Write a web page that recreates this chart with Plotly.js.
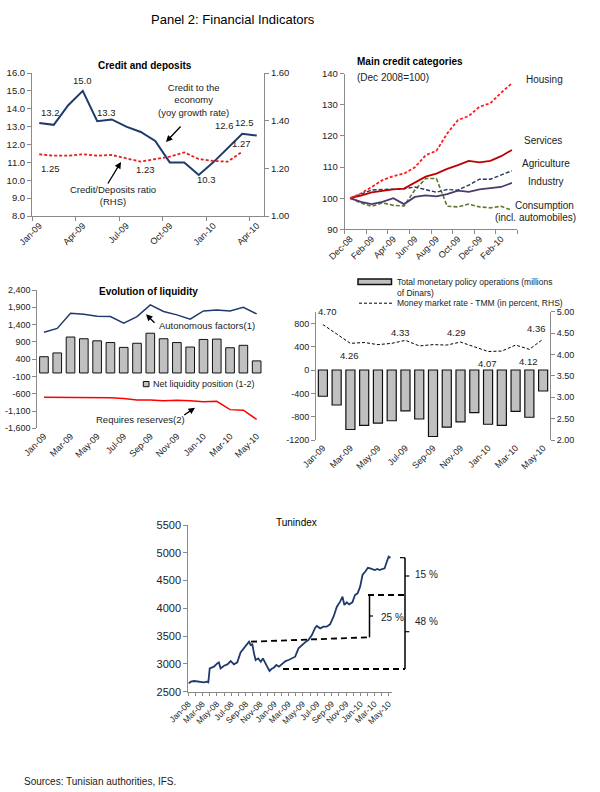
<!DOCTYPE html>
<html><head><meta charset="utf-8">
<script src="https://cdn.plot.ly/plotly-3.0.1.min.js"></script>
<style>html,body{margin:0;padding:0;background:#fff}#chart{width:600px;height:792px}</style>
</head><body><div id="chart"></div>
<script>
// ---------- DATA ----------
const creditMonths = ['Jan-09','Feb-09','Mar-09','Apr-09','May-09','Jun-09','Jul-09','Aug-09','Sep-09','Oct-09','Nov-09','Dec-09','Jan-10','Feb-10','Mar-10','Apr-10'];
const creditTickLabels = ['Jan-09','Apr-09','Jul-09','Oct-09','Jan-10','Apr-10'];
const creditGrowth = [13.2,13.1,14.2,15.0,13.3,13.4,13.0,12.7,12.2,11.0,11.0,10.3,11.0,11.8,12.6,12.5];
const creditDepositRatio = [1.259,1.253,1.253,1.259,1.253,1.256,1.242,1.228,1.239,1.249,1.267,1.239,1.231,1.228,1.270];

const categoryMonths = ['Dec-08','Jan-09','Feb-09','Mar-09','Apr-09','May-09','Jun-09','Jul-09','Aug-09','Sep-09','Oct-09','Nov-09','Dec-09','Jan-10','Feb-10','Mar-10'];
const categoryTickLabels = ['Dec-08','Feb-09','Apr-09','Jun-09','Aug-09','Oct-09','Dec-09','Feb-10'];
const housing     = [100,101.5,103.6,105.8,107.1,107.9,109.9,113.8,115.2,120.8,125.1,126.4,129.4,130.5,133.9,136.9];
const services    = [100,100.8,101.9,102.4,102.8,103.1,104.9,106.9,107.9,109.4,110.6,112.0,111.5,112.0,113.5,115.5];
const agriculture = [100,101.3,102.6,102.8,102.8,103.0,103.6,102.8,101.9,102.8,102.6,104.2,106.1,106.1,107.4,108.8];
const industry    = [100,98.8,98.1,98.8,100.0,98.1,100.4,100.9,100.6,101.3,102.4,102.0,102.8,103.1,103.6,104.9];
const consumption = [100,98.5,97.4,98.5,97.7,97.5,102.6,106.3,106.3,97.4,97.2,98.1,97.2,96.9,97.4,96.1];

const liquidityMonths = ['Jan-09','Feb-09','Mar-09','Apr-09','May-09','Jun-09','Jul-09','Aug-09','Sep-09','Oct-09','Nov-09','Dec-09','Jan-10','Feb-10','Mar-10','Apr-10','May-10'];
const liquidityTickLabels = ['Jan-09','Mar-09','May-09','Jul-09','Sep-09','Nov-09','Jan-10','Mar-10','May-10'];
const netLiquidity      = [470,580,1040,990,930,880,740,860,1150,990,880,750,970,980,730,800,350];
const autonomousFactors = [1180,1290,1730,1700,1640,1630,1440,1630,1970,1780,1680,1555,1795,1825,1795,1900,1710];
const requiredReserves  = [-700,-700,-700,-720,-700,-720,-740,-780,-780,-800,-790,-800,-835,-820,-1060,-1075,-1345];
const liquidityYTicks  = [-1600,-1100,-600,-100,400,900,1400,1900,2400];
const liquidityYLabels = ['-1,600','-1,100','-600','-100','400','900','1,400','1,900','2,400'];

const monetaryOps     = [-450,-600,-1020,-950,-910,-870,-700,-840,-1140,-980,-890,-730,-930,-950,-710,-810,-360];
const moneyMarketRate = [4.70,4.48,4.26,4.28,4.23,4.26,4.33,4.20,4.23,4.22,4.29,4.18,4.07,4.08,4.22,4.12,4.36];
const opsYTicks  = [-1200,-800,-400,0,400,800];
const opsYLabels = ['-1200','-800','-400','0','400','800'];
const rateYTicks = [2.0,2.5,3.0,3.5,4.0,4.5,5.0];

const tunDates = ['2008-01-02','2008-01-12','2008-01-26','2008-02-16','2008-03-07','2008-03-21','2008-03-26','2008-04-01','2008-04-19','2008-05-03','2008-05-10','2008-05-17','2008-06-01','2008-06-15','2008-06-29','2008-07-13','2008-07-27','2008-08-10','2008-08-24','2008-09-08','2008-09-15','2008-09-22','2008-09-29','2008-10-06','2008-10-13','2008-10-24','2008-11-04','2008-11-13','2008-11-22','2008-12-01','2008-12-11','2008-12-19','2008-12-29','2009-01-09','2009-01-20','2009-02-03','2009-02-17','2009-03-02','2009-03-16','2009-03-30','2009-04-13','2009-04-27','2009-05-11','2009-05-25','2009-06-09','2009-06-23','2009-06-30','2009-07-14','2009-07-28','2009-08-11','2009-08-25','2009-09-09','2009-09-23','2009-10-07','2009-10-17','2009-10-25','2009-11-04','2009-11-14','2009-11-28','2009-12-09','2009-12-20','2009-12-31','2010-01-10','2010-01-21','2010-02-02','2010-02-12','2010-02-22','2010-03-03','2010-03-14','2010-03-24','2010-04-03','2010-04-14','2010-04-21','2010-05-01','2010-05-09'];
const tunindex = [2650,2680,2692,2680,2668,2680,2668,2920,2950,3010,3028,2920,2968,2992,3052,2992,3028,3208,3280,3352,3400,3340,3352,3190,3070,3100,3040,3100,3010,2950,2872,2908,2932,2980,2950,3010,3052,3070,3100,3130,3280,3340,3388,3430,3520,3652,3682,3640,3670,3670,3712,3850,4030,4120,4210,4060,4108,4072,4108,4240,4270,4390,4600,4660,4730,4720,4708,4690,4708,4690,4708,4720,4810,4930,4910];
const tunTickLabels = ['Jan-08','Mar-08','May-08','Jul-08','Sep-08','Nov-08','Jan-09','Mar-09','May-09','Jul-09','Sep-09','Nov-09','Jan-10','Mar-10','May-10'];
const tunTickDates  = ['2008-01-01','2008-03-01','2008-05-01','2008-07-01','2008-09-01','2008-11-01','2009-01-01','2009-03-01','2009-05-01','2009-07-01','2009-09-01','2009-11-01','2010-01-01','2010-03-01','2010-05-01'];

// ---------- HELPERS ----------
const W = 600, H = 792;
const px = x => x / W, py = y => 1 - y / H;
const FONT = 'Liberation Sans, Arial, Helvetica, sans-serif';
const AXC = '#8a8a8a', TXT = '#222';
const idx = a => a.map((_, i) => i);
const posOf = (labels, all) => labels.map(l => all.indexOf(l));

function ax(extra) {
  return Object.assign({
    showgrid: false, zeroline: false, showline: true, linecolor: AXC, linewidth: 1,
    ticks: 'outside', ticklen: 4, tickcolor: AXC, tickwidth: 1,
    tickfont: {size: 9.5, color: TXT, family: FONT}, fixedrange: true
  }, extra);
}

const p1Ticks = posOf(creditTickLabels, creditMonths);
const p2Ticks = posOf(categoryTickLabels, categoryMonths);
const p3Ticks = posOf(liquidityTickLabels, liquidityMonths);

// monthly minor ticks for Tunindex axis
const tunMonthly = [];
for (let y = 2008; y <= 2010; y++) for (let m = 1; m <= 12; m++) {
  if (y === 2010 && m > 5) break;
  tunMonthly.push(y + '-' + String(m).padStart(2, '0') + '-01');
}

// ---------- TRACES ----------
const traces = [
  {type:'scatter', mode:'lines', x: idx(creditGrowth), y: creditGrowth, xaxis:'x', yaxis:'y',
   line:{color:'#1F3A6B', width:2}},
  {type:'scatter', mode:'lines', x: idx(creditDepositRatio), y: creditDepositRatio, xaxis:'x', yaxis:'y2',
   line:{color:'#E3201B', width:1.8, dash:'3px,2px'}},

  {type:'scatter', mode:'lines', x: idx(consumption), y: consumption, xaxis:'x2', yaxis:'y3',
   line:{color:'#5E7A2E', width:1.6, dash:'4px,2px'}},
  {type:'scatter', mode:'lines', x: idx(industry), y: industry, xaxis:'x2', yaxis:'y3',
   line:{color:'#4B3B6B', width:1.8}},
  {type:'scatter', mode:'lines', x: idx(agriculture), y: agriculture, xaxis:'x2', yaxis:'y3',
   line:{color:'#1F3864', width:1.4, dash:'4px,2px'}},
  {type:'scatter', mode:'lines', x: idx(services), y: services, xaxis:'x2', yaxis:'y3',
   line:{color:'#C00000', width:1.8}},
  {type:'scatter', mode:'lines', x: idx(housing), y: housing, xaxis:'x2', yaxis:'y3',
   line:{color:'#FF1A1A', width:1.8, dash:'3px,2px'}},

  {type:'bar', x: idx(netLiquidity), y: netLiquidity, xaxis:'x3', yaxis:'y4', width:0.65,
   marker:{color:'#C0C0C0', line:{color:'#111', width:1}}},
  {type:'scatter', mode:'lines', x: idx(autonomousFactors), y: autonomousFactors, xaxis:'x3', yaxis:'y4',
   line:{color:'#1F3A6B', width:1.5}},
  {type:'scatter', mode:'lines', x: idx(requiredReserves), y: requiredReserves, xaxis:'x3', yaxis:'y4',
   line:{color:'#FF0000', width:1.5}},

  {type:'bar', x: idx(monetaryOps), y: monetaryOps, xaxis:'x4', yaxis:'y5', width:0.66,
   marker:{color:'#C0C0C0', line:{color:'#111', width:1.2}}},
  {type:'scatter', mode:'lines', x: idx(moneyMarketRate), y: moneyMarketRate, xaxis:'x4', yaxis:'y6',
   line:{color:'#000', width:1, dash:'3px,2px'}},

  {type:'scatter', mode:'lines', x: tunDates, y: tunindex, xaxis:'x5', yaxis:'y7',
   line:{color:'#1F3A6B', width:1.8}}
];

// ---------- ANNOTATIONS ----------
function T(text, x, y, o) {
  o = o || {};
  return {text, xref:'paper', yref:'paper', x:px(x), y:py(y), showarrow:false,
    xanchor:o.anchor || 'center', yanchor:'middle', align:o.align || 'center',
    font:{size:o.size || 9.5, color:o.color || TXT, family:FONT}};
}
function D(text, xr, yr, xi, v, dx, dy) {
  return {text, xref:xr, yref:yr, x:xi, y:v, xshift:dx, yshift:dy, showarrow:false,
    xanchor:'center', yanchor:'middle', font:{size:9.5, color:TXT, family:FONT}};
}
function A(hx, hy, tx, ty) {
  return {text:'', xref:'paper', yref:'paper', x:px(hx), y:py(hy), ax:tx - hx, ay:ty - hy,
    showarrow:true, arrowhead:2, arrowsize:1, arrowwidth:1.3, arrowcolor:'#000'};
}

const annotations = [
  T('Panel 2: Financial Indicators', 232.5, 19, {size:13, color:'#000'}),
  T('<b>Credit and deposits</b>', 145, 65.7, {size:10, color:'#000'}),
  T('<b>Main credit categories</b>', 355, 61.7, {size:10, color:'#000', anchor:'left'}),
  T('(Dec 2008=100)', 355, 77.3, {size:10, anchor:'left'}),
  T('<b>Evolution of liquidity</b>', 148.3, 291.7, {size:10, color:'#000'}),
  T('Tunindex', 296, 522.7, {size:10, color:'#000'}),
  T('Sources: Tunisian authorities, IFS.', 21.7, 781.7, {size:10, anchor:'left'}),

  // panel 1
  D('13.2', 'x', 'y', 0, creditGrowth[0], 11, 11),
  D('15.0', 'x', 'y', 3, creditGrowth[3], 0, 10),
  D('13.3', 'x', 'y', 4, creditGrowth[4], 9, 9),
  D('10.3', 'x', 'y', 11, creditGrowth[11], 8, -5),
  D('12.6', 'x', 'y', 14, creditGrowth[14], -18, 8),
  D('12.5', 'x', 'y', 15, creditGrowth[15], -12, 13),
  D('1.25', 'x', 'y2', 0, creditDepositRatio[0], 11, -14),
  D('1.23', 'x', 'y2', 7, creditDepositRatio[7], 5, -8),
  D('1.27', 'x', 'y2', 14, creditDepositRatio[14], -1, 8),
  T('Credit to the<br>economy<br>(yoy growth rate)', 194, 99.5),
  T('Credit/Deposits ratio<br>(RHS)', 113, 195.5),
  A(166, 142, 182, 125),
  A(121, 162, 107, 185),

  // panel 2
  T('Housing', 544, 80, {size:10}),
  T('Services', 543, 141, {size:10}),
  T('Agriculture', 546, 163.3, {size:10}),
  T('Industry', 545.7, 181.7, {size:10}),
  T('Consumption', 544.5, 205, {size:10}),
  T('(incl. automobiles)', 535.3, 217.3, {size:10}),

  // panel 3
  T('Autonomous factors(1)', 156.7, 325.7, {anchor:'left'}),
  T('Net liquidity position (1-2)', 150.7, 384, {anchor:'left', size:9}),
  T('Requires reserves(2)', 94, 419.3, {anchor:'left'}),
  A(146, 314.3, 156, 324.3),
  A(195, 407.7, 182.7, 416),

  // panel 4
  T('Total monetary policy operations (millions', 395, 281.5, {anchor:'left', size:8.5}),
  T('of Dinars)', 395, 292.5, {anchor:'left', size:8.5}),
  T('Money market rate - TMM (in percent, RHS)', 395, 303.2, {anchor:'left', size:8.5}),
  D('4.70', 'x4', 'y6', 0, moneyMarketRate[0], 5, 13),
  D('4.26', 'x4', 'y6', 2, moneyMarketRate[2], -1, -12),
  D('4.33', 'x4', 'y6', 6, moneyMarketRate[6], -5, 8),
  D('4.29', 'x4', 'y6', 10, moneyMarketRate[10], -4, 10),
  D('4.07', 'x4', 'y6', 12, moneyMarketRate[12], -1, -12),
  D('4.12', 'x4', 'y6', 15, moneyMarketRate[15], -1, -12),
  D('4.36', 'x4', 'y6', 16, moneyMarketRate[16], -7, 11),

  // panel 5
  T('15 %', 426, 574.3, {size:10}),
  T('25 %', 392, 617.3, {size:10}),
  T('48 %', 426.5, 621.7, {size:10})
];

// ---------- SHAPES (legend swatches and Tunindex brackets) ----------
function L(x0, y0, x1, y1, o) {
  o = o || {};
  return {type:'line', xref:'paper', yref:'paper', x0:px(x0), y0:py(y0), x1:px(x1), y1:py(y1),
    line:{color:'#000', width:o.w || 1.5, dash:o.dash || 'solid'}};
}
function R(x0, y0, x1, y1, w) {
  return {type:'rect', xref:'paper', yref:'paper', x0:px(x0), y0:py(y0), x1:px(x1), y1:py(y1),
    fillcolor:'#C0C0C0', line:{color:'#111', width:w || 1}};
}
const shapes = [
  R(143.3, 381.5, 149, 386.7, 1),
  R(358, 279, 391.5, 284.5, 1.5),
  L(359, 303.2, 392, 303.2, {w:1, dash:'3px,2px'}),
  // Tunindex brackets
  L(251, 641.7, 369, 637.3, {w:1.8, dash:'6px,4px'}),
  L(369.5, 595, 369.5, 637.3, {w:1.5}),
  L(369.5, 616, 373, 616, {w:1.2}),
  L(368, 595, 405, 595, {w:1.8, dash:'6px,4px'}),
  L(283, 669, 405, 669, {w:1.8, dash:'6px,4px'}),
  L(400, 557.7, 405, 557.7, {w:1.2}),
  L(405, 557.7, 405, 669, {w:1.5}),
  L(405, 576, 409.3, 576, {w:1.2}),
  L(405, 631.7, 409.3, 631.7, {w:1.2})
];

// ---------- LAYOUT ----------
const layout = {
  width: W, height: H, margin:{l:0, r:0, t:0, b:0},
  paper_bgcolor:'#fff', plot_bgcolor:'rgba(0,0,0,0)',
  showlegend:false, font:{family:FONT, size:10, color:TXT},
  // panel 1
  xaxis: ax({domain:[px(32), px(264)], range:[-0.5, 15.5], anchor:'y',
    tickmode:'array', tickvals:p1Ticks, ticktext:creditTickLabels, tickangle:-45, ticks:'',
    tickfont:{size:9, color:TXT},
    minor:{tickmode:'array', tickvals:p1Ticks.map(v => v - 0.5), ticks:'outside', ticklen:4, tickcolor:AXC}}),
  yaxis: ax({domain:[py(216), py(73)], range:[8, 16], tick0:8, dtick:1, tickformat:'.1f', anchor:'x'}),
  yaxis2: ax({overlaying:'y', side:'right', anchor:'x', range:[1.0, 1.6], tick0:1, dtick:0.2, tickformat:'.2f'}),
  // panel 2
  xaxis2: ax({domain:[px(344.7), px(517.3)], range:[-0.5, 15.5], anchor:'y3',
    tickmode:'array', tickvals:p2Ticks, ticktext:categoryTickLabels, tickangle:-45, ticks:'',
    tickfont:{size:9, color:TXT},
    minor:{tickmode:'array', tickvals:p2Ticks.map(v => v - 0.5).concat([15.5]), ticks:'outside', ticklen:4, tickcolor:AXC}}),
  yaxis3: ax({domain:[py(229.3), py(73.7)], range:[90, 140], tick0:90, dtick:10, anchor:'x2'}),
  // panel 3
  xaxis3: ax({domain:[px(37.3), px(263.3)], range:[-0.5, 16.5], anchor:'y4', showline:false,
    tickmode:'array', tickvals:p3Ticks, ticktext:liquidityTickLabels, tickangle:-45, ticks:'',
    tickfont:{size:9, color:TXT}}),
  yaxis4: ax({domain:[py(428.3), py(290)], range:[-1600, 2400], anchor:'x3',
    tickmode:'array', tickvals:liquidityYTicks, ticktext:liquidityYLabels, tickfont:{size:9, color:TXT}}),
  xaxis6: ax({overlaying:'x3', anchor:'free', position:py(373), range:[-0.5, 16.5],
    tickmode:'array', tickvals:p3Ticks.slice(1).map(v => v - 0.5), showticklabels:false, ticklen:3}),
  // panel 4
  xaxis4: ax({domain:[px(316), px(550)], range:[-0.5, 16.5], anchor:'y5', showline:false,
    tickmode:'array', tickvals:p3Ticks, ticktext:liquidityTickLabels, tickangle:-45, ticks:'',
    tickfont:{size:9, color:TXT}}),
  yaxis5: ax({domain:[py(440), py(311.7)], range:[-1200, 1000], anchor:'x4',
    tickmode:'array', tickvals:opsYTicks, ticktext:opsYLabels, tickfont:{size:9, color:TXT}}),
  yaxis6: ax({overlaying:'y5', side:'right', anchor:'x4', range:[2, 5],
    tickmode:'array', tickvals:rateYTicks, tickformat:'.2f', tickfont:{size:9, color:TXT}}),
  xaxis7: ax({overlaying:'x4', anchor:'free', position:py(370), range:[-0.5, 16.5],
    tickmode:'array', tickvals:p3Ticks.slice(1).map(v => v - 0.5), showticklabels:false, ticklen:3}),
  // panel 5
  xaxis5: ax({type:'date', domain:[px(188.3), px(391.7)], range:['2008-01-01', '2010-05-14'], anchor:'y7',
    tickmode:'array', tickvals:tunTickDates, ticktext:tunTickLabels, tickangle:-45, ticklen:3,
    tickfont:{size:8.5, color:TXT},
    minor:{tickmode:'array', tickvals:tunMonthly, ticks:'outside', ticklen:3, tickcolor:AXC}}),
  yaxis7: ax({domain:[py(691.7), py(525)], range:[2500, 5500], tick0:2500, dtick:500, anchor:'x5',
    tickfont:{size:11, color:TXT}}),
  annotations, shapes
};

Plotly.newPlot('chart', traces, layout, {staticPlot:true, displayModeBar:false});
</script>
</body></html>
